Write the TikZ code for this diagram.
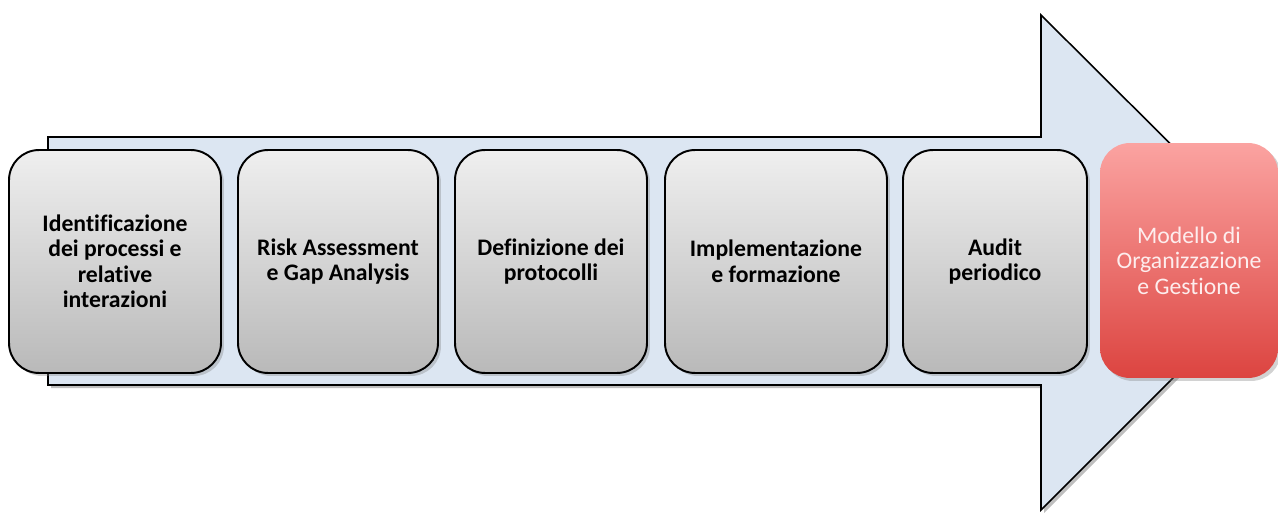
\documentclass[tikz,border=0pt]{standalone}
\usepackage{fontspec}
\setmainfont{Carlito}[Ligatures=NoCommon]
\usetikzlibrary{shadows}
\definecolor{arrowfill}{HTML}{DCE6F2}
\definecolor{graytop}{HTML}{EFEFEF}
\definecolor{graybot}{HTML}{B9B9B9}
\definecolor{redtop}{HTML}{FBA3A1}
\definecolor{redbot}{HTML}{DC4440}
\definecolor{redtext}{HTML}{FDEDED}
\tikzset{
  stepbox/.style={draw=black, line width=1.1pt, rounded corners=0.6cm,
    top color=graytop, bottom color=graybot,
    drop shadow={shadow xshift=0.06cm, shadow yshift=-0.06cm, opacity=0.35},
    minimum height=4.46cm, align=center, font=\bfseries\fontsize{13.5}{14.5}\selectfont,
    text=black, inner sep=2pt},
  resultbox/.style={draw=none, rounded corners=0.6cm,
    top color=redtop, bottom color=redbot,
    drop shadow={shadow xshift=0.06cm, shadow yshift=-0.06cm, opacity=0.35},
    minimum height=4.7cm, minimum width=3.56cm, align=center,
    font=\fontsize{13.5}{14.5}\selectfont, text=redtext, inner sep=2pt},
}
\begin{document}
\begin{tikzpicture}[x=0.02cm, y=-0.02cm]
\useasboundingbox[fill=white] (0,0) rectangle (1278,513);
\clip (0,0) rectangle (1278,513);
% big arrow
\path[fill=black, opacity=0.25]
  (51,140) -- (1044,140) -- (1044,18) -- (1292,265) -- (1044,513) -- (1044,388) -- (51,388) -- cycle;
\draw[fill=arrowfill, draw=black, line width=0.9pt]
  (48,137) -- (1041,137) -- (1041,15) -- (1289,262) -- (1041,510) -- (1041,385) -- (48,385) -- cycle;
% steps
\node[stepbox, minimum width=4.24cm] (s1) at (115,261.5) {Identificazione\\dei processi e\\relative\\interazioni};
\node[stepbox, minimum width=4.0cm] (s2) at (338,261.5) {Risk Assessment\\e Gap Analysis};
\node[stepbox, minimum width=3.84cm] (s3) at (551,261.5) {Definizione dei\\protocolli};
\node[stepbox, minimum width=4.44cm] (s4) at (776,261.5) {Implementazione\\e formazione};
\node[stepbox, minimum width=3.68cm] (s5) at (995,261.5) {Audit\\periodico};
\node[resultbox] (r) at (1189,260.5) {Modello di\\Organizzazione\\e Gestione};
\end{tikzpicture}
\end{document}
